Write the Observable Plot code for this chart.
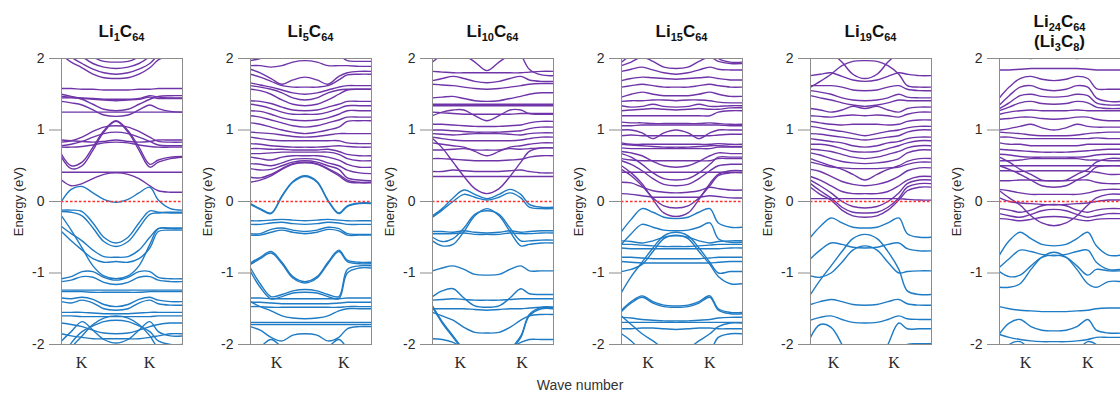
<!DOCTYPE html>
<html><head><meta charset="utf-8">
<script src="https://cdn.jsdelivr.net/npm/d3@7"></script>
<script src="https://cdn.jsdelivr.net/npm/@observablehq/plot@0.6"></script>
<style>
html,body{margin:0;padding:0;background:#fff;overflow:hidden;}
#wrap{position:relative;width:1120px;height:399px;overflow:hidden;font-family:Arial,"Liberation Sans",sans-serif;}
.pnl{position:absolute;top:0;}
.ttl{position:absolute;width:160px;text-align:center;font-weight:bold;font-size:17px;line-height:20px;color:#111;}
.ttl sub{font-size:11px;vertical-align:-4px;line-height:0;}
#xl{position:absolute;left:480px;width:200px;top:377px;text-align:center;font-size:14px;color:#333;}
</style></head>
<body><div id="wrap"></div>
<script>
// k-path sample positions (fraction of the path)
const kPath = [0, 0.08, 0.17, 0.26, 0.35, 0.45, 0.55, 0.64, 0.73, 0.8, 0.9, 1.0];
const kTicks = [[0.165,0.727],[0.215,0.77],[0.23,0.74],[0.22,0.73],[0.19,0.69],[0.215,0.73]];
const kLabels = ["K","K"];
const yTicks = [-2,-1,0,1,2];
const titles = [
  [["Li","1","C","64"]],
  [["Li","5","C","64"]],
  [["Li","10","C","64"]],
  [["Li","15","C","64"]],
  [["Li","19","C","64"]],
  [["Li","24","C","64"],["(Li","3","C","8",")"]]
];
const yLabel = "Energy (eV)";
const xLabel = "Wave number";

// ---- Li1C64 ----
const li1Cond = [
[2.4,2.25,2.12,2.02,1.96,1.95,1.96,2.02,2.12,2.25,2.35,2.4],
[2.3,2.15,2.03,1.93,1.88,1.86,1.88,1.93,2.03,2.15,2.25,2.3],
[2.15,2.02,1.93,1.85,1.8,1.78,1.8,1.85,1.93,2.05,2.15,2.2],
[2.05,1.95,1.87,1.78,1.73,1.72,1.73,1.78,1.87,1.98,2.05,2.08],
[1.58,1.58,1.57,1.57,1.56,1.56,1.56,1.57,1.57,1.58,1.58,1.58],
[1.47,1.46,1.45,1.44,1.43,1.43,1.43,1.44,1.48,1.46,1.45,1.45],
[1.45,1.45,1.44,1.43,1.42,1.41,1.42,1.43,1.46,1.44,1.44,1.44],
[1.5,1.47,1.43,1.36,1.29,1.27,1.29,1.36,1.43,1.47,1.48,1.48],
[1.4,1.38,1.35,1.28,1.21,1.19,1.21,1.28,1.35,1.3,1.26,1.25],
[1.25,1.25,1.25,1.25,1.25,1.25,1.25,1.25,1.25,1.25,1.25,1.25],
[0.62,0.46,0.5,0.72,0.97,1.12,0.97,0.72,0.48,0.55,0.6,0.62],
[0.66,0.5,0.55,0.76,0.99,1.13,0.99,0.76,0.52,0.58,0.62,0.63],
[0.83,0.85,0.9,0.98,1.04,1.06,1.04,0.98,0.9,0.84,0.83,0.83],
[0.78,0.8,0.84,0.9,0.95,0.97,0.95,0.9,0.84,0.79,0.78,0.78],
[0.86,0.85,0.84,0.83,0.84,0.86,0.84,0.83,0.84,0.86,0.86,0.86],
[0.76,0.76,0.77,0.79,0.82,0.83,0.82,0.79,0.77,0.76,0.76,0.76],
[0.41,0.41,0.41,0.41,0.41,0.41,0.41,0.41,0.41,0.41,0.41,0.41],
[0.3,0.22,0.25,0.32,0.38,0.4,0.38,0.32,0.22,0.15,0.13,0.13]
];
const li1Val = [
[0.0,0.17,0.21,0.12,0.03,-0.01,0.03,0.12,0.2,0.02,-0.1,-0.12],
[-0.12,-0.12,-0.14,-0.3,-0.5,-0.58,-0.5,-0.3,-0.13,-0.15,-0.15,-0.15],
[-0.14,-0.15,-0.2,-0.37,-0.56,-0.63,-0.56,-0.37,-0.18,-0.16,-0.16,-0.16],
[-0.35,-0.45,-0.55,-0.68,-0.77,-0.78,-0.77,-0.68,-0.5,-0.38,-0.37,-0.37],
[-0.42,-0.55,-0.68,-0.8,-0.85,-0.84,-0.85,-0.8,-0.65,-0.42,-0.4,-0.4],
[-0.2,-0.4,-0.65,-0.9,-1.04,-1.08,-1.04,-0.9,-0.6,-0.38,-0.38,-0.38],
[-1.08,-1.05,-0.98,-0.98,-1.06,-1.1,-1.06,-0.98,-0.98,-1.06,-1.08,-1.08],
[-1.12,-1.1,-1.05,-1.06,-1.13,-1.16,-1.13,-1.06,-1.05,-1.1,-1.12,-1.12],
[-1.24,-1.24,-1.24,-1.24,-1.24,-1.24,-1.24,-1.24,-1.24,-1.24,-1.24,-1.24],
[-1.26,-1.26,-1.26,-1.27,-1.27,-1.27,-1.27,-1.27,-1.26,-1.26,-1.26,-1.26],
[-1.35,-1.36,-1.34,-1.37,-1.44,-1.47,-1.44,-1.37,-1.34,-1.38,-1.4,-1.4],
[-1.4,-1.42,-1.38,-1.42,-1.5,-1.52,-1.5,-1.42,-1.38,-1.43,-1.45,-1.45],
[-1.55,-1.55,-1.55,-1.56,-1.57,-1.57,-1.57,-1.56,-1.55,-1.55,-1.55,-1.55],
[-1.6,-1.6,-1.61,-1.61,-1.61,-1.61,-1.61,-1.61,-1.61,-1.6,-1.6,-1.6],
[-2.3,-2.05,-1.88,-1.72,-1.63,-1.6,-1.63,-1.72,-1.88,-2.05,-2.15,-2.15],
[-2.2,-1.98,-1.82,-1.74,-1.68,-1.66,-1.68,-1.74,-1.82,-1.95,-2.0,-2.0],
[-1.7,-1.72,-1.75,-1.8,-1.84,-1.85,-1.84,-1.8,-1.75,-1.72,-1.7,-1.7],
[-1.95,-1.82,-1.68,-1.8,-1.93,-1.98,-1.93,-1.8,-1.68,-1.82,-1.88,-1.88],
[-1.85,-1.88,-1.9,-1.92,-1.92,-1.92,-1.92,-1.92,-1.9,-1.88,-1.85,-1.85]
];
// ---- Li5C64 ----
const li5Cond = [
[1.97,2.0,2.05,2.1,2.15,2.15,2.15,2.1,2.05,1.97,1.96,1.96],
[1.9,1.9,1.88,1.9,1.95,1.97,1.95,1.9,1.9,1.9,1.89,1.89],
[1.85,1.8,1.72,1.64,1.7,1.74,1.7,1.64,1.75,1.8,1.82,1.82],
[1.78,1.74,1.68,1.62,1.6,1.6,1.6,1.62,1.7,1.77,1.78,1.78],
[1.66,1.63,1.6,1.56,1.52,1.5,1.52,1.56,1.6,1.62,1.62,1.62],
[1.62,1.6,1.57,1.52,1.45,1.42,1.45,1.52,1.56,1.57,1.57,1.57],
[1.57,1.55,1.5,1.42,1.36,1.34,1.36,1.42,1.5,1.56,1.57,1.57],
[1.41,1.4,1.37,1.32,1.28,1.27,1.28,1.32,1.36,1.4,1.4,1.4],
[1.36,1.34,1.3,1.25,1.22,1.22,1.22,1.25,1.3,1.34,1.34,1.34],
[1.27,1.26,1.22,1.17,1.14,1.13,1.14,1.17,1.22,1.27,1.27,1.27],
[1.2,1.18,1.14,1.1,1.06,1.04,1.06,1.1,1.14,1.18,1.18,1.18],
[1.1,1.08,1.04,1.0,0.97,0.95,0.97,1.0,1.04,1.12,1.13,1.13],
[0.97,0.96,0.95,0.93,0.91,0.9,0.91,0.93,0.95,0.95,0.95,0.95],
[0.9,0.88,0.86,0.85,0.85,0.85,0.85,0.85,0.85,0.82,0.81,0.81],
[0.81,0.8,0.78,0.77,0.76,0.76,0.76,0.77,0.78,0.77,0.76,0.76],
[0.74,0.74,0.73,0.73,0.72,0.72,0.72,0.73,0.7,0.66,0.64,0.64],
[0.67,0.67,0.68,0.69,0.69,0.69,0.69,0.69,0.66,0.6,0.57,0.57],
[0.62,0.6,0.58,0.62,0.64,0.64,0.64,0.62,0.58,0.52,0.48,0.48],
[0.53,0.52,0.5,0.54,0.59,0.6,0.59,0.54,0.5,0.44,0.4,0.39],
[0.46,0.44,0.45,0.5,0.55,0.57,0.55,0.5,0.45,0.33,0.3,0.29],
[0.34,0.33,0.38,0.46,0.53,0.55,0.53,0.46,0.38,0.3,0.27,0.27],
[0.27,0.3,0.36,0.45,0.52,0.54,0.52,0.45,0.36,0.28,0.26,0.26]
];
const li5Val = [
[-0.03,-0.1,-0.16,0.08,0.28,0.36,0.28,0.02,-0.16,-0.06,-0.02,-0.02],
[-0.04,-0.11,-0.17,0.07,0.27,0.35,0.27,0.01,-0.17,-0.07,-0.03,-0.03],
[-0.27,-0.27,-0.26,-0.25,-0.26,-0.27,-0.26,-0.25,-0.26,-0.27,-0.27,-0.27],
[-0.32,-0.32,-0.3,-0.29,-0.31,-0.32,-0.31,-0.29,-0.3,-0.32,-0.32,-0.32],
[-0.45,-0.45,-0.39,-0.37,-0.4,-0.42,-0.4,-0.36,-0.38,-0.45,-0.46,-0.46],
[-0.47,-0.47,-0.43,-0.4,-0.43,-0.45,-0.43,-0.39,-0.41,-0.47,-0.47,-0.47],
[-0.86,-0.78,-0.7,-0.85,-1.05,-1.12,-1.05,-0.85,-0.68,-0.82,-0.85,-0.85],
[-0.88,-0.8,-0.72,-0.87,-1.07,-1.14,-1.07,-0.87,-0.7,-0.84,-0.87,-0.87],
[-0.93,-1.15,-1.33,-1.3,-1.25,-1.23,-1.25,-1.3,-1.33,-0.95,-0.9,-0.9],
[-0.98,-1.2,-1.36,-1.33,-1.28,-1.27,-1.28,-1.33,-1.36,-1.0,-0.93,-0.93],
[-1.35,-1.35,-1.36,-1.36,-1.36,-1.36,-1.36,-1.36,-1.36,-1.35,-1.35,-1.35],
[-1.41,-1.41,-1.42,-1.43,-1.43,-1.43,-1.43,-1.43,-1.42,-1.41,-1.41,-1.41],
[-1.47,-1.47,-1.48,-1.48,-1.48,-1.48,-1.48,-1.48,-1.48,-1.47,-1.47,-1.47],
[-1.4,-1.47,-1.53,-1.6,-1.63,-1.64,-1.63,-1.6,-1.53,-1.5,-1.5,-1.5],
[-1.69,-1.69,-1.69,-1.69,-1.69,-1.69,-1.69,-1.69,-1.69,-1.69,-1.69,-1.69],
[-1.72,-1.72,-1.72,-1.72,-1.72,-1.72,-1.72,-1.72,-1.72,-1.72,-1.72,-1.72],
[-1.75,-1.8,-1.9,-1.95,-1.87,-1.85,-1.87,-1.95,-1.9,-1.78,-1.75,-1.75],
[-2.3,-2.05,-1.93,-2.05,-2.3,-2.4,-2.3,-2.05,-1.93,-2.05,-2.2,-2.2]
];
// ---- Li10C64 ----
const li10Cond = [
[1.95,2.05,2.1,2.05,1.95,1.83,1.95,2.05,2.1,2.05,2.1,2.1],
[2.3,2.3,2.3,2.3,2.3,2.3,2.3,2.2,2.05,1.85,1.77,1.76],
[1.82,1.81,1.8,1.8,1.8,1.8,1.8,1.8,1.8,1.81,1.82,1.82],
[1.69,1.72,1.75,1.72,1.68,1.66,1.68,1.72,1.75,1.7,1.68,1.68],
[1.64,1.63,1.62,1.6,1.58,1.57,1.58,1.6,1.62,1.64,1.65,1.65],
[1.45,1.46,1.47,1.44,1.41,1.4,1.41,1.44,1.47,1.5,1.52,1.52],
[1.36,1.36,1.36,1.36,1.36,1.36,1.36,1.36,1.36,1.36,1.36,1.36],
[1.34,1.34,1.34,1.34,1.34,1.34,1.34,1.34,1.34,1.34,1.34,1.34],
[1.2,1.25,1.28,1.28,1.2,1.13,1.2,1.28,1.28,1.23,1.22,1.22],
[1.25,1.24,1.23,1.22,1.22,1.22,1.22,1.22,1.23,1.23,1.23,1.23],
[1.08,1.08,1.07,1.06,1.05,1.05,1.05,1.06,1.07,1.1,1.12,1.12],
[1.0,1.0,0.99,0.98,0.97,0.97,0.97,0.98,0.99,1.02,1.04,1.04],
[0.95,0.94,0.93,0.94,0.95,0.95,0.95,0.94,0.93,0.95,0.96,0.96],
[0.9,0.88,0.86,0.85,0.85,0.85,0.85,0.85,0.86,0.88,0.9,0.9],
[0.82,0.8,0.78,0.76,0.7,0.64,0.7,0.76,0.78,0.8,0.82,0.82],
[0.72,0.72,0.73,0.74,0.72,0.72,0.72,0.74,0.73,0.74,0.75,0.75],
[0.6,0.6,0.59,0.58,0.57,0.57,0.57,0.58,0.59,0.62,0.64,0.64],
[0.88,0.75,0.55,0.35,0.18,0.11,0.18,0.35,0.55,0.7,0.75,0.75],
[0.42,0.42,0.44,0.43,0.42,0.42,0.42,0.43,0.44,0.42,0.4,0.4],
[0.35,0.35,0.35,0.35,0.35,0.35,0.35,0.35,0.35,0.35,0.35,0.35]
];
const li10Val = [
[-0.2,-0.1,0.05,0.16,0.1,0.04,0.1,0.17,0.1,-0.04,-0.08,-0.08],
[-0.22,-0.12,0.0,0.1,0.06,0.02,0.06,0.12,0.05,-0.08,-0.1,-0.1],
[-0.55,-0.62,-0.6,-0.42,-0.2,-0.1,-0.2,-0.42,-0.62,-0.6,-0.58,-0.58],
[-0.5,-0.56,-0.52,-0.37,-0.18,-0.13,-0.18,-0.37,-0.55,-0.55,-0.54,-0.54],
[-0.42,-0.42,-0.43,-0.41,-0.43,-0.44,-0.43,-0.41,-0.43,-0.42,-0.41,-0.41],
[-0.45,-0.45,-0.45,-0.44,-0.46,-0.46,-0.46,-0.44,-0.45,-0.45,-0.44,-0.44],
[-0.97,-0.93,-0.9,-0.95,-1.02,-1.03,-1.02,-0.95,-0.9,-0.97,-0.97,-0.97],
[-1.33,-1.25,-1.22,-1.35,-1.46,-1.48,-1.46,-1.35,-1.22,-1.29,-1.3,-1.3],
[-1.38,-1.37,-1.36,-1.37,-1.38,-1.38,-1.38,-1.37,-1.36,-1.36,-1.36,-1.36],
[-1.5,-1.5,-1.5,-1.5,-1.51,-1.52,-1.51,-1.5,-1.5,-1.49,-1.48,-1.48],
[-1.48,-1.7,-1.9,-2.1,-2.3,-2.4,-2.3,-2.1,-1.9,-1.6,-1.5,-1.5],
[-1.46,-1.68,-1.88,-2.08,-2.28,-2.38,-2.28,-2.08,-1.88,-1.58,-1.48,-1.48],
[-1.55,-1.6,-1.66,-1.76,-1.83,-1.84,-1.83,-1.76,-1.66,-1.6,-1.58,-1.58],
[-1.92,-1.93,-1.97,-2.05,-2.1,-2.1,-2.1,-2.05,-1.97,-1.93,-1.93,-1.93]
];
// ---- Li15C64 ----
const li15Cond = [
[1.95,2.05,2.15,2.2,2.2,2.2,2.2,2.2,2.15,2.0,1.95,1.95],
[1.9,1.95,2.02,1.96,1.88,1.86,1.88,1.96,2.02,1.96,1.93,1.93],
[1.82,1.85,1.88,1.84,1.8,1.78,1.8,1.84,1.88,1.85,1.84,1.84],
[1.69,1.72,1.74,1.73,1.72,1.71,1.72,1.73,1.74,1.72,1.7,1.7],
[1.6,1.62,1.64,1.62,1.6,1.6,1.6,1.62,1.64,1.62,1.6,1.6],
[1.46,1.5,1.53,1.5,1.48,1.48,1.48,1.5,1.53,1.5,1.47,1.47],
[1.4,1.41,1.41,1.42,1.42,1.41,1.42,1.42,1.41,1.39,1.38,1.38],
[1.34,1.32,1.33,1.36,1.33,1.32,1.33,1.36,1.33,1.33,1.34,1.34],
[1.27,1.28,1.29,1.3,1.29,1.28,1.29,1.3,1.29,1.29,1.31,1.31],
[1.2,1.2,1.2,1.2,1.2,1.2,1.2,1.2,1.2,1.25,1.27,1.27],
[1.11,1.1,1.1,1.09,1.09,1.09,1.09,1.09,1.1,1.09,1.08,1.08],
[1.06,1.06,1.07,1.07,1.07,1.07,1.07,1.07,1.07,1.07,1.06,1.06],
[1.0,1.0,0.96,0.88,0.96,1.0,0.96,0.88,0.96,1.0,1.0,1.0],
[0.92,0.93,0.92,0.92,0.92,0.92,0.92,0.92,0.92,0.93,0.94,0.94],
[0.82,0.8,0.8,0.8,0.8,0.8,0.8,0.8,0.8,0.81,0.8,0.8],
[0.8,0.79,0.78,0.77,0.76,0.76,0.76,0.77,0.78,0.78,0.77,0.77],
[0.75,0.74,0.74,0.74,0.74,0.74,0.74,0.74,0.74,0.76,0.76,0.76],
[0.7,0.68,0.64,0.56,0.5,0.48,0.5,0.56,0.64,0.68,0.67,0.67],
[0.6,0.58,0.57,0.57,0.57,0.57,0.57,0.57,0.57,0.6,0.6,0.6],
[0.67,0.62,0.52,0.4,0.32,0.3,0.32,0.4,0.52,0.62,0.62,0.62],
[0.57,0.52,0.43,0.32,0.24,0.22,0.24,0.32,0.43,0.5,0.52,0.52],
[0.41,0.41,0.41,0.41,0.41,0.41,0.41,0.41,0.41,0.41,0.41,0.41],
[0.45,0.36,0.22,0.05,-0.06,-0.09,-0.06,0.05,0.22,0.36,0.4,0.4],
[0.5,0.4,0.25,0.03,-0.16,-0.21,-0.16,0.03,0.25,0.38,0.43,0.43],
[0.27,0.26,0.2,0.15,0.13,0.12,0.13,0.15,0.2,0.18,0.16,0.16],
[0.11,0.1,0.08,0.06,0.06,0.06,0.06,0.06,0.08,0.07,0.05,0.05]
];
const li15Val = [
[-0.42,-0.25,-0.1,-0.15,-0.22,-0.24,-0.22,-0.15,-0.1,-0.3,-0.36,-0.36],
[-0.6,-0.45,-0.32,-0.36,-0.4,-0.41,-0.4,-0.36,-0.3,-0.52,-0.57,-0.57],
[-0.55,-0.56,-0.58,-0.55,-0.5,-0.48,-0.5,-0.55,-0.58,-0.56,-0.55,-0.55],
[-0.6,-0.6,-0.61,-0.62,-0.63,-0.63,-0.63,-0.62,-0.61,-0.6,-0.6,-0.6],
[-0.65,-0.66,-0.66,-0.66,-0.66,-0.66,-0.66,-0.66,-0.66,-0.66,-0.65,-0.65],
[-0.78,-0.78,-0.79,-0.8,-0.8,-0.8,-0.8,-0.8,-0.79,-0.78,-0.78,-0.78],
[-0.84,-0.85,-0.86,-0.86,-0.86,-0.86,-0.86,-0.86,-0.86,-0.85,-0.84,-0.84],
[-1.27,-1.05,-0.85,-0.65,-0.48,-0.43,-0.48,-0.65,-0.85,-1.0,-0.98,-0.98],
[-0.98,-0.95,-0.88,-0.7,-0.52,-0.47,-0.52,-0.7,-0.88,-1.05,-1.15,-1.15],
[-1.52,-1.4,-1.32,-1.4,-1.45,-1.46,-1.45,-1.4,-1.32,-1.5,-1.55,-1.55],
[-1.54,-1.42,-1.34,-1.42,-1.47,-1.48,-1.47,-1.42,-1.34,-1.52,-1.57,-1.57],
[-1.62,-1.63,-1.65,-1.66,-1.67,-1.67,-1.67,-1.66,-1.65,-1.63,-1.62,-1.62],
[-1.69,-1.69,-1.69,-1.69,-1.69,-1.69,-1.69,-1.69,-1.69,-1.69,-1.69,-1.69],
[-1.78,-1.78,-1.77,-1.77,-1.78,-1.79,-1.78,-1.77,-1.77,-1.78,-1.78,-1.78],
[-1.6,-1.72,-1.85,-1.95,-2.05,-2.08,-2.05,-1.95,-1.85,-1.75,-1.7,-1.7],
[-1.85,-1.95,-2.1,-2.2,-2.3,-2.3,-2.3,-2.2,-2.1,-1.9,-1.85,-1.85]
];
// ---- Li19C64 ----
const li19Cond = [
[1.6,1.68,1.78,1.9,1.96,1.97,1.96,1.9,1.78,1.62,1.6,1.6],
[2.2,2.15,2.08,1.95,1.78,1.72,1.78,1.95,2.08,2.15,2.2,2.2],
[1.76,1.78,1.8,1.75,1.7,1.68,1.7,1.75,1.8,1.78,1.76,1.76],
[1.62,1.62,1.62,1.6,1.56,1.55,1.56,1.6,1.62,1.57,1.55,1.55],
[1.55,1.53,1.5,1.45,1.42,1.41,1.42,1.45,1.5,1.46,1.45,1.45],
[1.48,1.45,1.42,1.38,1.35,1.33,1.35,1.38,1.42,1.41,1.41,1.41],
[1.3,1.28,1.25,1.28,1.33,1.3,1.33,1.28,1.25,1.3,1.32,1.32],
[1.2,1.19,1.18,1.2,1.21,1.2,1.21,1.2,1.18,1.22,1.25,1.25],
[1.12,1.1,1.08,1.07,1.08,1.08,1.08,1.07,1.08,1.12,1.14,1.14],
[1.05,1.03,1.0,0.98,0.95,0.92,0.95,0.98,1.0,1.03,1.05,1.05],
[0.95,0.94,0.92,0.9,0.88,0.86,0.88,0.9,0.92,0.97,1.0,1.0],
[0.88,0.86,0.84,0.82,0.78,0.76,0.78,0.82,0.84,0.88,0.9,0.9],
[0.8,0.8,0.78,0.74,0.7,0.69,0.7,0.74,0.78,0.82,0.85,0.85],
[0.73,0.72,0.7,0.66,0.62,0.6,0.62,0.66,0.7,0.75,0.78,0.78],
[0.68,0.65,0.6,0.56,0.54,0.53,0.54,0.56,0.6,0.68,0.72,0.72],
[0.6,0.55,0.5,0.45,0.38,0.3,0.38,0.45,0.5,0.56,0.6,0.6],
[0.55,0.52,0.48,0.47,0.46,0.46,0.46,0.47,0.48,0.52,0.55,0.55],
[0.45,0.42,0.35,0.28,0.24,0.22,0.24,0.28,0.35,0.43,0.47,0.47],
[0.35,0.3,0.22,0.14,0.11,0.11,0.11,0.14,0.22,0.3,0.35,0.35],
[0.3,0.22,0.12,0.0,-0.07,-0.09,-0.07,0.0,0.12,0.25,0.3,0.3],
[0.25,0.15,0.05,-0.08,-0.15,-0.16,-0.15,-0.08,0.05,0.2,0.25,0.25],
[0.2,0.1,0.02,-0.12,-0.2,-0.22,-0.2,-0.12,0.02,0.15,0.2,0.2],
[0.04,0.04,0.04,0.04,0.04,0.04,0.04,0.04,0.04,0.03,0.02,0.02]
];
const li19Val = [
[-0.5,-0.35,-0.23,-0.3,-0.36,-0.37,-0.36,-0.3,-0.23,-0.45,-0.5,-0.5],
[-1.3,-1.1,-0.9,-0.7,-0.52,-0.46,-0.52,-0.7,-0.95,-1.25,-1.3,-1.3],
[-1.04,-1.06,-1.0,-0.85,-0.68,-0.62,-0.68,-0.85,-1.0,-0.98,-0.97,-0.97],
[-0.8,-0.68,-0.58,-0.6,-0.64,-0.65,-0.64,-0.6,-0.58,-0.66,-0.69,-0.69],
[-1.44,-1.4,-1.37,-1.4,-1.44,-1.45,-1.44,-1.4,-1.37,-1.43,-1.45,-1.45],
[-1.66,-1.62,-1.6,-1.65,-1.69,-1.7,-1.69,-1.65,-1.6,-1.64,-1.65,-1.65],
[-1.9,-1.72,-1.76,-2.0,-2.3,-2.4,-2.3,-2.0,-1.7,-1.78,-1.78,-1.78],
[-2.2,-2.1,-2.2,-2.3,-2.3,-2.3,-2.3,-2.2,-2.1,-2.0,-1.99,-1.99]
];
// ---- Li24C64 ----
const li24Cond = [
[2.2,2.1,2.05,2.0,2.05,2.1,2.05,2.0,2.05,2.1,2.2,2.2],
[1.84,1.84,1.85,1.86,1.86,1.86,1.86,1.86,1.85,1.84,1.84,1.84],
[1.45,1.6,1.72,1.75,1.71,1.69,1.71,1.75,1.72,1.58,1.57,1.57],
[1.35,1.48,1.6,1.62,1.57,1.55,1.57,1.62,1.6,1.45,1.4,1.4],
[1.3,1.38,1.48,1.5,1.47,1.46,1.47,1.5,1.48,1.38,1.35,1.35],
[1.27,1.32,1.38,1.4,1.37,1.36,1.37,1.4,1.38,1.32,1.3,1.3],
[1.22,1.25,1.27,1.28,1.27,1.27,1.27,1.28,1.27,1.27,1.27,1.27],
[1.15,1.16,1.18,1.18,1.16,1.15,1.16,1.18,1.18,1.15,1.13,1.13],
[1.0,1.02,1.05,1.08,1.03,1.0,1.03,1.08,1.05,1.04,1.04,1.04],
[0.97,0.96,0.95,0.93,0.92,0.92,0.92,0.93,0.95,0.96,0.97,0.97],
[0.9,0.9,0.88,0.88,0.88,0.88,0.88,0.88,0.88,0.89,0.88,0.88],
[0.82,0.8,0.8,0.78,0.78,0.78,0.78,0.78,0.8,0.8,0.8,0.8],
[0.73,0.72,0.71,0.7,0.69,0.69,0.69,0.7,0.71,0.72,0.73,0.73],
[0.66,0.65,0.63,0.62,0.62,0.62,0.62,0.62,0.63,0.65,0.66,0.66],
[0.57,0.57,0.58,0.6,0.6,0.6,0.6,0.6,0.58,0.58,0.57,0.57],
[0.62,0.55,0.45,0.38,0.3,0.29,0.3,0.38,0.45,0.55,0.6,0.6],
[0.5,0.45,0.38,0.3,0.22,0.2,0.22,0.3,0.38,0.48,0.5,0.5],
[0.5,0.5,0.5,0.5,0.5,0.5,0.5,0.5,0.5,0.5,0.5,0.5],
[0.43,0.43,0.42,0.43,0.43,0.43,0.43,0.43,0.42,0.41,0.38,0.38],
[0.29,0.29,0.3,0.3,0.29,0.29,0.29,0.3,0.3,0.27,0.25,0.25],
[0.17,0.15,0.12,0.1,0.1,0.1,0.1,0.1,0.12,0.15,0.17,0.17],
[0.15,0.05,-0.05,-0.2,-0.3,-0.34,-0.3,-0.2,-0.05,0.05,0.1,0.1],
[-0.1,-0.12,-0.15,-0.12,-0.06,-0.04,-0.06,-0.12,-0.15,-0.12,-0.1,-0.1],
[-0.17,-0.2,-0.22,-0.18,-0.13,-0.11,-0.13,-0.18,-0.22,-0.2,-0.17,-0.17],
[-0.24,-0.25,-0.27,-0.25,-0.22,-0.21,-0.22,-0.25,-0.27,-0.25,-0.24,-0.24],
[0.05,0.0,-0.02,-0.03,-0.04,-0.05,-0.04,-0.03,-0.02,0.0,0.02,0.02]
];
const li24Val = [
[-0.75,-0.55,-0.43,-0.52,-0.6,-0.62,-0.6,-0.52,-0.43,-0.62,-0.75,-0.75],
[-0.92,-0.8,-0.68,-0.7,-0.74,-0.76,-0.74,-0.7,-0.68,-0.85,-0.95,-0.95],
[-1.2,-1.2,-1.15,-0.95,-0.78,-0.71,-0.78,-0.95,-1.15,-1.2,-1.12,-1.12],
[-0.98,-1.05,-1.03,-0.9,-0.78,-0.75,-0.78,-0.9,-1.03,-0.95,-0.97,-0.97],
[-1.47,-1.5,-1.52,-1.53,-1.54,-1.54,-1.54,-1.53,-1.52,-1.5,-1.49,-1.49],
[-1.85,-1.7,-1.65,-1.75,-1.8,-1.81,-1.8,-1.75,-1.65,-1.8,-1.84,-1.84],
[-1.86,-1.9,-1.93,-1.95,-1.96,-1.96,-1.96,-1.95,-1.93,-1.9,-1.9,-1.9],
[-2.2,-2.0,-1.96,-2.1,-2.3,-2.4,-2.3,-2.1,-1.96,-2.0,-2.2,-2.2]
];

const panels = [
  {cond: li1Cond, val: li1Val},
  {cond: li5Cond, val: li5Val},
  {cond: li10Cond, val: li10Val},
  {cond: li15Cond, val: li15Val},
  {cond: li19Cond, val: li19Val},
  {cond: li24Cond, val: li24Val}
];

const PURPLE = "#6f35a8";
const BLUE = "#1f7bc4";
const RED = "#ff2d2d";
const frameLefts = [61, 250, 432, 621, 810, 999];
const frameW = 121, mLeft = 61, mRight = 3;

function rowsOf(bands) {
  const rows = [];
  bands.forEach((b, i) => b.forEach((e, j) => rows.push({k: kPath[j], e, band: i})));
  return rows;
}

const wrap = document.getElementById("wrap");
panels.forEach((p, idx) => {
  const chart = Plot.plot({
    width: mLeft + frameW + mRight, height: 399,
    marginLeft: mLeft, marginRight: mRight, marginTop: 58, marginBottom: 55,
    style: {fontFamily: "Arial, 'Liberation Sans', sans-serif", fontSize: "14px", color: "#2a2a2a", background: "transparent", overflow: "visible"},
    x: {domain: [0, 1]},
    y: {domain: [-2, 2]},
    marks: [
      Plot.line(rowsOf(p.cond), {x: "k", y: "e", z: "band", stroke: PURPLE, strokeWidth: 1.4, curve: "catmull-rom", clip: true}),
      Plot.line(rowsOf(p.val), {x: "k", y: "e", z: "band", stroke: BLUE, strokeWidth: 1.4, curve: "catmull-rom", clip: true}),
      Plot.ruleY([0], {stroke: RED, strokeDasharray: "2.5,2", strokeWidth: 1.4, strokeOpacity: 1}),
      Plot.frame({stroke: "#8c8c8c"}),
      Plot.axisY({ticks: yTicks, tickFormat: d => String(d), tickSize: 12, tickPadding: 5, label: yLabel, labelAnchor: "center", labelOffset: 48, labelArrow: "none"}),
      Plot.axisX({ticks: kTicks[idx], tickFormat: (d, i) => kLabels[i], tickSize: 0, tickPadding: 12, label: null, fontFamily: "'Liberation Serif', 'DejaVu Serif', serif", fontSize: 16})
    ]
  });
  chart.classList.add("pnl");
  chart.style.left = (frameLefts[idx] - mLeft) + "px";
  const s = d3.select(chart);
  s.selectAll('g[aria-label="y-axis tick"]').attr("stroke", "#8c8c8c");
  s.selectAll('g[aria-label="y-axis label"]').attr("fill", "#2a2a2a").attr("stroke", null);
  s.selectAll('g[aria-label="y-axis label"] text').attr("fill", "#2a2a2a").style("fill", "#2a2a2a").style("font-size", "13px");
  s.selectAll('g[aria-label="rule"]').attr("stroke", RED).selectAll("line").attr("stroke", RED);
  wrap.appendChild(chart);

  const t = document.createElement("div");
  t.className = "ttl";
  const lines = titles[idx];
  t.style.left = (frameLefts[idx] + frameW / 2 - 80) + "px";
  t.style.top = (lines.length > 1 ? 12 : 22) + "px";
  t.innerHTML = lines.map(parts => parts.map((s, i) => i % 2 ? "<sub>" + s + "</sub>" : s).join("")).join("<br>");
  wrap.appendChild(t);
});
const xl = document.createElement("div");
xl.id = "xl";
xl.textContent = xLabel;
wrap.appendChild(xl);
</script>
</body></html>
